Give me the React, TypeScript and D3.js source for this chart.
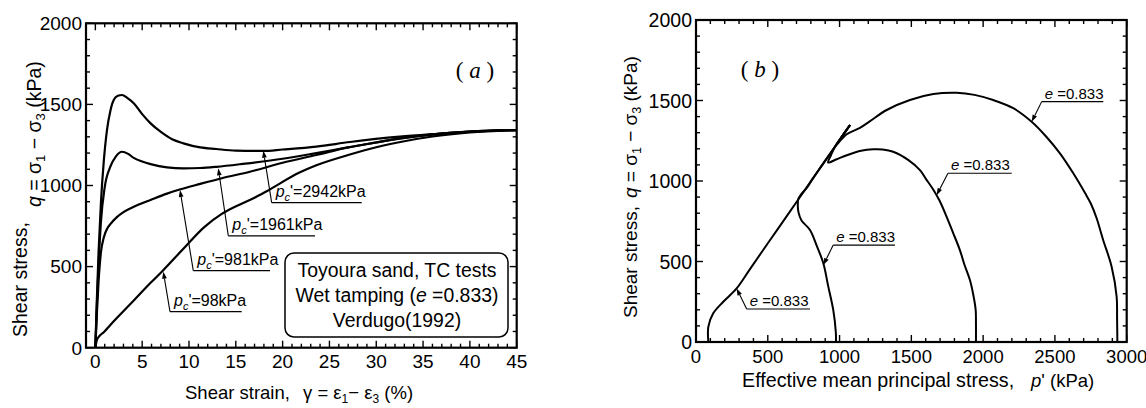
import React from 'react';
import * as d3 from 'd3';

// ---- Panel (a): shear stress q (kPa) vs shear strain γ (%) ----
const qGamma98: [number, number][] = [
  [0, 0], [0.15, 45], [0.4, 70], [0.9, 95], [1.6, 140], [2.5, 195], [4, 285], [5.9, 400],
  [7.2, 475], [9.4, 610], [11.6, 742], [13.5, 825], [15.5, 885], [17, 925], [18.3, 965],
  [21.8, 1080], [23.6, 1125], [27, 1188], [30, 1236], [33, 1273], [36, 1302], [40, 1327], [45, 1342],
];
const qGamma981: [number, number][] = [
  [0, 0], [0.15, 200], [0.35, 416], [0.6, 590], [0.9, 680], [1.3, 738], [1.6, 762], [2.3, 805],
  [3, 836], [4.1, 869], [5.9, 911], [7.65, 950], [9, 975], [11.2, 1010], [13.5, 1045],
  [16.5, 1085], [20, 1140], [23.6, 1188], [27, 1235], [30, 1265], [32.5, 1291], [36, 1315],
  [40, 1332], [45, 1342],
];
const qGamma1961: [number, number][] = [
  [0, 0], [0.15, 250], [0.35, 520], [0.6, 780], [1, 990], [1.6, 1116], [2.2, 1180], [2.85, 1208],
  [3.5, 1195], [4.1, 1170], [5, 1148], [5.9, 1132], [7.65, 1112], [9.4, 1106], [11.2, 1108],
  [12.9, 1115], [16, 1135], [20, 1165], [23.6, 1200], [27, 1235], [32.5, 1289], [36, 1314],
  [40, 1332], [45, 1342],
];
const qGamma2942: [number, number][] = [
  [0, 0], [0.15, 280], [0.35, 600], [0.6, 900], [0.9, 1150], [1.24, 1342], [1.6, 1460],
  [1.96, 1527], [2.4, 1553], [2.85, 1558], [3.4, 1540], [4.1, 1507], [5, 1440], [5.9, 1383],
  [7, 1330], [8.2, 1285], [9.4, 1260], [11.2, 1235], [12.9, 1225], [15, 1215], [17.9, 1213],
  [20, 1222], [23.6, 1240], [27.2, 1268], [32.5, 1301], [36.1, 1317], [40, 1332], [45, 1342],
];

// ---- Panel (b): stress paths q vs p' (kPa) ----
const path98: [number, number][] = [
  [86, 0], [86, 95], [120, 178], [190, 250], [283, 333], [376, 453], [515, 632], [655, 811],
  [794, 990], [870, 1088], [968, 1213], [1020, 1280], [1073, 1348],
];
const path981: [number, number][] = [
  [975, 0], [974, 60], [956, 199], [920, 350], [887, 489], [840, 600], [794, 696], [735, 755],
  [714, 805], [709, 850], [713, 890], [735, 920], [770, 955], [810, 1010], [870, 1088],
  [968, 1213], [1020, 1280], [1073, 1348],
];
const path1961: [number, number][] = [
  [1950, 0], [1950, 120], [1948, 200], [1930, 300], [1908, 385], [1870, 480], [1838, 571],
  [1790, 680], [1740, 790], [1695, 880], [1650, 950], [1600, 1015], [1560, 1068], [1480, 1130],
  [1374, 1182], [1300, 1196], [1235, 1197], [1150, 1188], [1050, 1160], [980, 1135], [920, 1115],
  [940, 1160], [968, 1213], [1020, 1280], [1073, 1348],
];
const path2942: [number, number][] = [
  [2935, 0], [2933, 150], [2930, 281], [2895, 468], [2836, 634], [2790, 770], [2750, 860],
  [2710, 925], [2628, 1048], [2535, 1172], [2440, 1275], [2338, 1368], [2210, 1452],
  [2070, 1503], [1940, 1535], [1815, 1548], [1653, 1540], [1490, 1503], [1328, 1441],
  [1210, 1370], [1142, 1330], [1050, 1290], [968, 1213], [1020, 1280], [1073, 1348],
];

// Tick label values
const strainTickLabels = d3.range(0, 46, 5);
const stressTickLabels = d3.range(0, 2001, 500);
const meanStressTickLabels = d3.range(0, 3001, 500);

// Pressure labels with leader lines (tip on curve, foot of leader, end of underline)
const strainNotes = [
  { pc: 2942, tip: [17.94, 1214], foot: [18.83, 894], end: 28.45 },
  { pc: 1961, tip: [13.13, 1106], foot: [14.2, 689], end: 23.46 },
  { pc: 981, tip: [9.04, 972], foot: [10.46, 475], end: 18.65 },
  { pc: 98, tip: [7.26, 468], foot: [7.97, 222], end: 15.63 },
];
const pathNotes = [
  { e: '0.833', tip: [283, 333], foot: [353, 205], end: 794 },
  { e: '0.833', tip: [887, 478], foot: [956, 602], end: 1386 },
  { e: '0.833', tip: [1676, 912], foot: [1755, 1048], end: 2199 },
  { e: '0.833', tip: [2338, 1368], foot: [2408, 1493], end: 2837 },
];

const FONT = "'Liberation Sans', Arial, sans-serif";
const SERIF = "'Liberation Serif', 'Times New Roman', serif";

type Scale = d3.ScaleLinear<number, number>;

function Frame({ x, y, xTicks, xMajor, yTicks, yMajor }: {
  x: Scale; y: Scale; xTicks: number[]; xMajor: number; yTicks: number[]; yMajor: number;
}) {
  const [l, r] = x.range();
  const [b, t] = y.range();
  const len = (v: number, m: number) => (Math.abs(v % m) < 1e-6 ? 7 : 4);
  return (
    <g stroke="#000" fill="none">
      {xTicks.map((v) => (
        <g key={'x' + v} strokeWidth={1.4}>
          <line x1={x(v)} x2={x(v)} y1={b} y2={b - len(v, xMajor)} />
          <line x1={x(v)} x2={x(v)} y1={t} y2={t + len(v, xMajor)} />
        </g>
      ))}
      {yTicks.map((v) => (
        <g key={'y' + v} strokeWidth={1.4}>
          <line x1={l} x2={l + len(v, yMajor)} y1={y(v)} y2={y(v)} />
          <line x1={r} x2={r - len(v, yMajor)} y1={y(v)} y2={y(v)} />
        </g>
      ))}
      <rect x={l} y={t} width={r - l} height={b - t} strokeWidth={2.2} />
    </g>
  );
}

function Leader({ tip, foot, end }: { tip: [number, number]; foot: [number, number]; end: number }) {
  const dx = tip[0] - foot[0];
  const dy = tip[1] - foot[1];
  const d = Math.hypot(dx, dy);
  const ux = dx / d, uy = dy / d;
  const L = 7, w = 2.4;
  const bx = tip[0] - ux * L, by = tip[1] - uy * L;
  const head = `${tip[0]},${tip[1]} ${bx - uy * w},${by + ux * w} ${bx + uy * w},${by - ux * w}`;
  return (
    <g>
      <line x1={foot[0]} y1={foot[1]} x2={bx} y2={by} stroke="#000" strokeWidth={1.1} />
      <polygon points={head} fill="#000" />
      <line x1={foot[0]} y1={foot[1]} x2={end} y2={foot[1]} stroke="#000" strokeWidth={1.2} />
    </g>
  );
}

export default function App() {
  // Panel (a) scales
  const xA = d3.scaleLinear().domain([-1, 45]).range([86, 516.7]);
  const yA = d3.scaleLinear().domain([0, 2000]).range([347.7, 23.3]);
  // Panel (b) scales
  const xB = d3.scaleLinear().domain([0, 3000]).range([696, 1126.7]);
  const yB = d3.scaleLinear().domain([0, 2000]).range([342, 20]);

  const lineA = d3.line<[number, number]>().x((d) => xA(d[0])).y((d) => yA(d[1])).curve(d3.curveMonotoneX);
  const lineB = d3.line<[number, number]>().x((d) => xB(d[0])).y((d) => yB(d[1])).curve(d3.curveCatmullRom.alpha(0.5));

  const seriesA = [qGamma98, qGamma981, qGamma1961, qGamma2942];
  const seriesB = [path98, path981, path1961, path2942];

  return (
    <svg width={1146} height={408} style={{ position: 'absolute', left: 0, top: 0, background: '#fff' }}
      fontFamily={FONT}>
      <rect width={1146} height={408} fill="#fff" />

      {/* ---------- Panel (a) ---------- */}
      <Frame x={xA} y={yA} xTicks={d3.range(0, 46, 1)} xMajor={5} yTicks={d3.range(0, 2001, 100)} yMajor={500} />
      {seriesA.map((s, i) => (
        <path key={i} d={lineA(s) || ''} fill="none" stroke="#000" strokeWidth={2.2} strokeLinejoin="round" />
      ))}
      {strainTickLabels.map((v) => (
        <text key={v} x={xA(v)} y={368} fontSize={19} textAnchor="middle">{v}</text>
      ))}
      {stressTickLabels.map((v) => (
        <text key={v} x={82} y={yA(v)} dy="0.36em" fontSize={19} textAnchor="end">{v}</text>
      ))}
      <text x={185} y={399} fontSize={18.5}>
        Shear strain,
        <tspan x={303}>γ = ε</tspan><tspan dy={4} fontSize={12}>1</tspan>
        <tspan dy={-4}>− ε</tspan><tspan dy={4} fontSize={12}>3</tspan>
        <tspan dy={-4}> (%)</tspan>
      </text>
      <text transform="translate(27,337) rotate(-90)" fontSize={19.5}>Shear stress,</text>
      <text transform="translate(41,207) rotate(-90)" fontSize={19.5}>
        <tspan fontStyle="italic">q</tspan> = σ<tspan dy={4} fontSize={13}>1</tspan>
        <tspan dy={-4}> − σ</tspan><tspan dy={4} fontSize={13}>3</tspan>
        <tspan dy={-4}> (kPa)</tspan>
      </text>
      <text x={475} y={78} fontSize={23} fontFamily={SERIF} textAnchor="middle">
        ( <tspan fontStyle="italic">a</tspan> )
      </text>

      {strainNotes.map((n) => {
        const tip: [number, number] = [xA(n.tip[0]), yA(n.tip[1])];
        const foot: [number, number] = [xA(n.foot[0]), yA(n.foot[1])];
        return (
          <g key={n.pc}>
            <Leader tip={tip} foot={foot} end={xA(n.end)} />
            <text x={foot[0] + 4} y={foot[1] - 6} fontSize={16}>
              <tspan fontStyle="italic">p</tspan>
              <tspan dy={4} fontSize={11} fontStyle="italic">c</tspan>
              <tspan dy={-4}>'=</tspan>{n.pc}kPa
            </text>
          </g>
        );
      })}

      <rect x={285} y={253} width={223} height={84} rx={9} fill="#fff" stroke="#000" strokeWidth={1.5} />
      <text x={397} y={277} fontSize={19.4} textAnchor="middle">Toyoura sand, TC tests</text>
      <text x={397} y={302} fontSize={19.4} textAnchor="middle">
        Wet tamping (<tspan fontStyle="italic">e</tspan> =0.833)
      </text>
      <text x={397} y={327} fontSize={19.4} textAnchor="middle">Verdugo(1992)</text>

      {/* ---------- Panel (b) ---------- */}
      <Frame x={xB} y={yB} xTicks={d3.range(0, 3001, 100)} xMajor={500} yTicks={d3.range(0, 2001, 100)} yMajor={500} />
      {seriesB.map((s, i) => (
        <path key={i} d={lineB(s) || ''} fill="none" stroke="#000" strokeWidth={2} strokeLinejoin="round" />
      ))}
      {meanStressTickLabels.map((v) => (
        <text key={v} x={xB(v)} y={363} fontSize={18.5} textAnchor="middle">{v}</text>
      ))}
      {stressTickLabels.map((v) => (
        <text key={v} x={692} y={yB(v)} dy="0.36em" fontSize={19.5} textAnchor="end">{v}</text>
      ))}
      <text x={742} y={387} fontSize={19.7}>
        Effective mean principal stress,
        <tspan x={1031} fontStyle="italic" fontSize={18.5}>p</tspan><tspan fontSize={18.5}>' (kPa)</tspan>
      </text>
      <text transform="translate(637,318) rotate(-90)" fontSize={19}>
        Shear stress,
        <tspan dx={8} fontStyle="italic">q</tspan> = σ<tspan dy={4} fontSize={12.5}>1</tspan>
        <tspan dy={-4}> − σ</tspan><tspan dy={4} fontSize={12.5}>3</tspan>
        <tspan dy={-4}> (kPa)</tspan>
      </text>
      <text x={760} y={77} fontSize={23} fontFamily={SERIF} textAnchor="middle">
        ( <tspan fontStyle="italic">b</tspan> )
      </text>

      {pathNotes.map((n, i) => {
        const tip: [number, number] = [xB(n.tip[0]), yB(n.tip[1])];
        const foot: [number, number] = [xB(n.foot[0]), yB(n.foot[1])];
        return (
          <g key={i}>
            <Leader tip={tip} foot={foot} end={xB(n.end)} />
            <text x={foot[0] + 3} y={foot[1] - 3} fontSize={15}>
              <tspan fontStyle="italic">e</tspan> ={n.e}
            </text>
          </g>
        );
      })}
    </svg>
  );
}
